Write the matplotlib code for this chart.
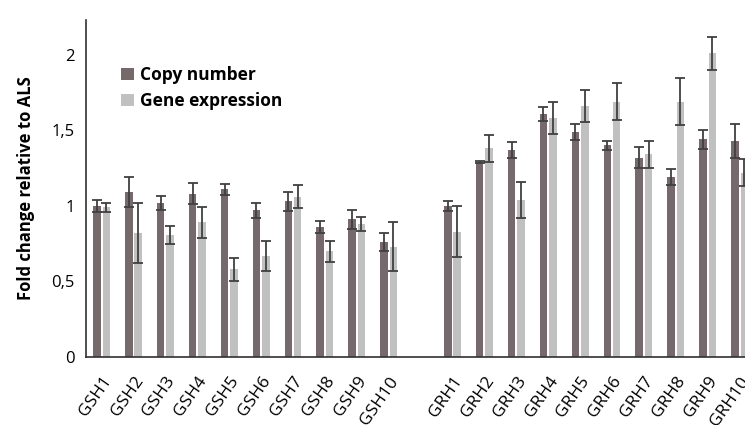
import numpy as np
import matplotlib.pyplot as plt

# data
gsh_labels = ['GSH1', 'GSH2', 'GSH3', 'GSH4', 'GSH5', 'GSH6', 'GSH7', 'GSH8', 'GSH9', 'GSH10']
grh_labels = ['GRH1', 'GRH2', 'GRH3', 'GRH4', 'GRH5', 'GRH6', 'GRH7', 'GRH8', 'GRH9', 'GRH10']

gsh_copy = [1.00, 1.09, 1.02, 1.08, 1.11, 0.97, 1.03, 0.86, 0.91, 0.76]
gsh_copy_err = [0.04, 0.10, 0.045, 0.07, 0.035, 0.05, 0.065, 0.04, 0.06, 0.06]
gsh_expr = [0.99, 0.82, 0.81, 0.89, 0.58, 0.67, 1.06, 0.70, 0.88, 0.73]
gsh_expr_err = [0.03, 0.20, 0.06, 0.10, 0.077, 0.10, 0.075, 0.07, 0.045, 0.16]

grh_copy = [1.00, 1.29, 1.37, 1.61, 1.49, 1.40, 1.32, 1.19, 1.44, 1.43]
grh_copy_err = [0.033, 0.005, 0.05, 0.047, 0.052, 0.03, 0.07, 0.055, 0.065, 0.11]
grh_expr = [0.83, 1.38, 1.04, 1.58, 1.66, 1.69, 1.34, 1.69, 2.01, 1.22]
grh_expr_err = [0.17, 0.087, 0.12, 0.105, 0.105, 0.122, 0.09, 0.155, 0.11, 0.087]

labels = gsh_labels + grh_labels
copy_vals = gsh_copy + grh_copy
copy_err = gsh_copy_err + grh_copy_err
expr_vals = gsh_expr + grh_expr
expr_err = gsh_expr_err + grh_expr_err

# one empty slot between the two groups
x = np.r_[np.arange(10), np.arange(11, 21)]

plt.rcParams['font.family'] = ['Open Sans', 'DejaVu Sans']

fig = plt.figure(figsize=(7.45, 4.25), dpi=100)
ax = fig.add_axes([0.1154, 0.16, 0.8846, 0.793])

w = 0.235
off = 0.147
ekw = dict(ecolor='#404040', elinewidth=1.3, capsize=3.3, capthick=1.3)

ax.bar(x - off, copy_vals, w, yerr=copy_err, color='#76696b', error_kw=ekw, label='Copy number')
ax.bar(x + off, expr_vals, w, yerr=expr_err, color='#c0c0c0', error_kw=ekw, label='Gene expression')

ax.set_xlim(-0.49, 20.17)
ax.set_ylim(0, 2.23)
ax.set_yticks([0, 0.5, 1, 1.5, 2])
ax.set_yticklabels(['0', '0,5', '1', '1,5', '2'], fontsize=12)
ax.set_xticks(x)
ax.set_xticklabels(labels, rotation=55, ha='right', va='top', rotation_mode='anchor', fontsize=12.5)
ax.tick_params(length=0, pad=8)
ax.tick_params(axis='x', pad=12)

for s in ['top', 'right']:
    ax.spines[s].set_visible(False)
ax.spines['left'].set_color('#303030')
ax.spines['bottom'].set_color('#303030')
ax.spines['left'].set_linewidth(1.2)
ax.spines['bottom'].set_linewidth(1.2)

ax.set_ylabel('Fold change relative to ALS', fontsize=12, fontweight='bold', labelpad=12)

ax.legend(loc='upper left', bbox_to_anchor=(0.03, 0.91), frameon=False,
          prop={'weight': 'bold', 'size': 12.5}, handlelength=0.7, handleheight=0.7,
          handletextpad=0.4, labelspacing=0.45)

fig.savefig('out.png', dpi=100)
